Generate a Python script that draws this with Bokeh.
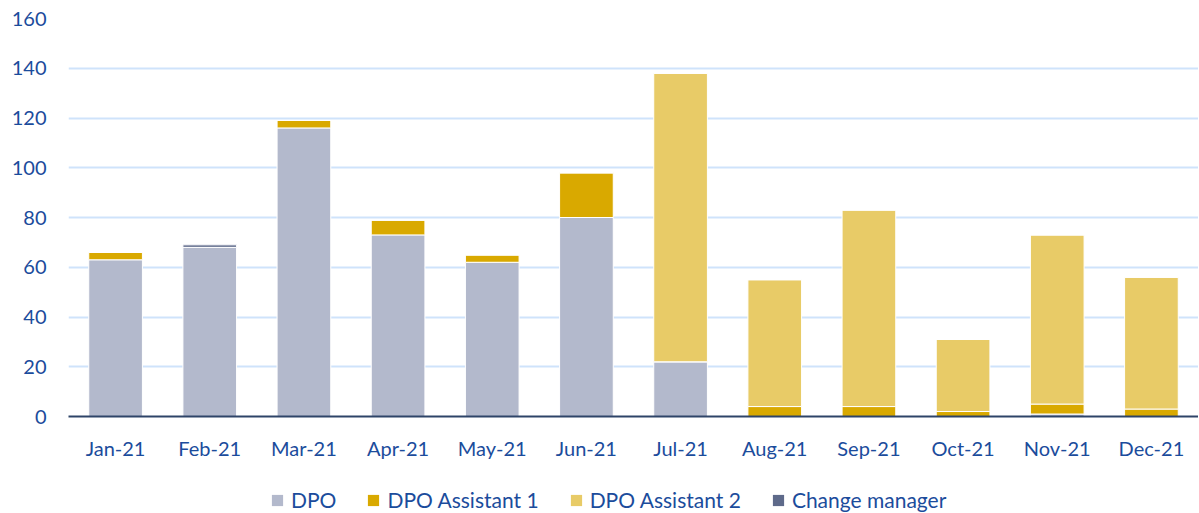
from bokeh.plotting import figure
from bokeh.layouts import column
from bokeh.models import ColumnDataSource, Legend, LegendItem, FixedTicker
from bokeh.embed import file_html
from bokeh.resources import INLINE

months = ["Jan-21", "Feb-21", "Mar-21", "Apr-21", "May-21", "Jun-21",
          "Jul-21", "Aug-21", "Sep-21", "Oct-21", "Nov-21", "Dec-21"]
dpo = [63, 68, 116, 73, 62, 80, 22, 0, 0, 0, 1, 0]
dpo_a1 = [3, 0, 3, 6, 3, 18, 0, 4, 4, 2, 4, 3]
dpo_a2 = [0, 0, 0, 0, 0, 0, 116, 51, 79, 29, 68, 53]
change_mgr = [0, 1, 0, 0, 0, 0, 0, 0, 0, 0, 0, 0]

series = ["DPO", "DPO Assistant 1", "DPO Assistant 2", "Change manager"]
keys = ["dpo", "a1", "a2", "cm"]
colors = ["#B3B9CC", "#D9A900", "#E8CB67", "#5E6A8A"]

source = ColumnDataSource(dict(months=months, dpo=dpo, a1=dpo_a1, a2=dpo_a2, cm=change_mgr))

TEXT = "#1B4C9C"
FONT = "Lato"
W = 1198

p = figure(x_range=months, y_range=(0, 160), width=W, height=462,
           output_backend="svg", toolbar_location=None,
           min_border_left=68, min_border_right=0, min_border_top=18, min_border_bottom=0)

renderers = p.vbar_stack(keys, x="months", width=0.57, color=colors, source=source,
                         line_color="white", line_width=1)

p.outline_line_color = None
p.xgrid.grid_line_color = None
p.ygrid.grid_line_color = "#CFE3FB"
p.ygrid.grid_line_width = 2
p.yaxis.ticker = FixedTicker(ticks=list(range(0, 161, 20)))
p.yaxis.axis_line_color = None
p.yaxis.major_tick_line_color = None
p.yaxis.minor_tick_line_color = None
p.xaxis.axis_line_color = "#2E4468"
p.xaxis.axis_line_width = 2
p.xaxis.major_tick_line_color = None
p.xaxis.minor_tick_line_color = None
for ax in (p.xaxis, p.yaxis):
    ax.major_label_text_color = TEXT
    ax.major_label_text_font = FONT
    ax.major_label_text_font_size = "20px"
p.yaxis.major_label_standoff = 16
p.xaxis.major_label_standoff = 13
p.x_range.range_padding = 0

# legend-only strip below the chart; its bars lie outside its visible range
lg = figure(x_range=months, y_range=(1000, 1001), width=W, height=50,
            output_backend="svg", toolbar_location=None,
            x_axis_type=None, y_axis_type=None,
            min_border_left=0, min_border_right=0, min_border_top=0, min_border_bottom=0)
lg.outline_line_color = None
lg.grid.grid_line_color = None
lg_renderers = lg.vbar_stack(keys, x="months", width=0.57, color=colors, source=source,
                             line_color=None)

legend = Legend(items=[LegendItem(label=s, renderers=[r]) for s, r in zip(series, lg_renderers)],
                orientation="horizontal", location=(202, 0),
                label_text_color=TEXT, label_text_font=FONT, label_text_font_size="21px",
                glyph_width=14, glyph_height=14, spacing=30, label_standoff=7,
                border_line_color=None, background_fill_alpha=0, margin=0, padding=0)
lg.add_layout(legend, "center")

layout = column(p, lg, spacing=0)
open("out.html", "w").write(file_html(layout, INLINE))
